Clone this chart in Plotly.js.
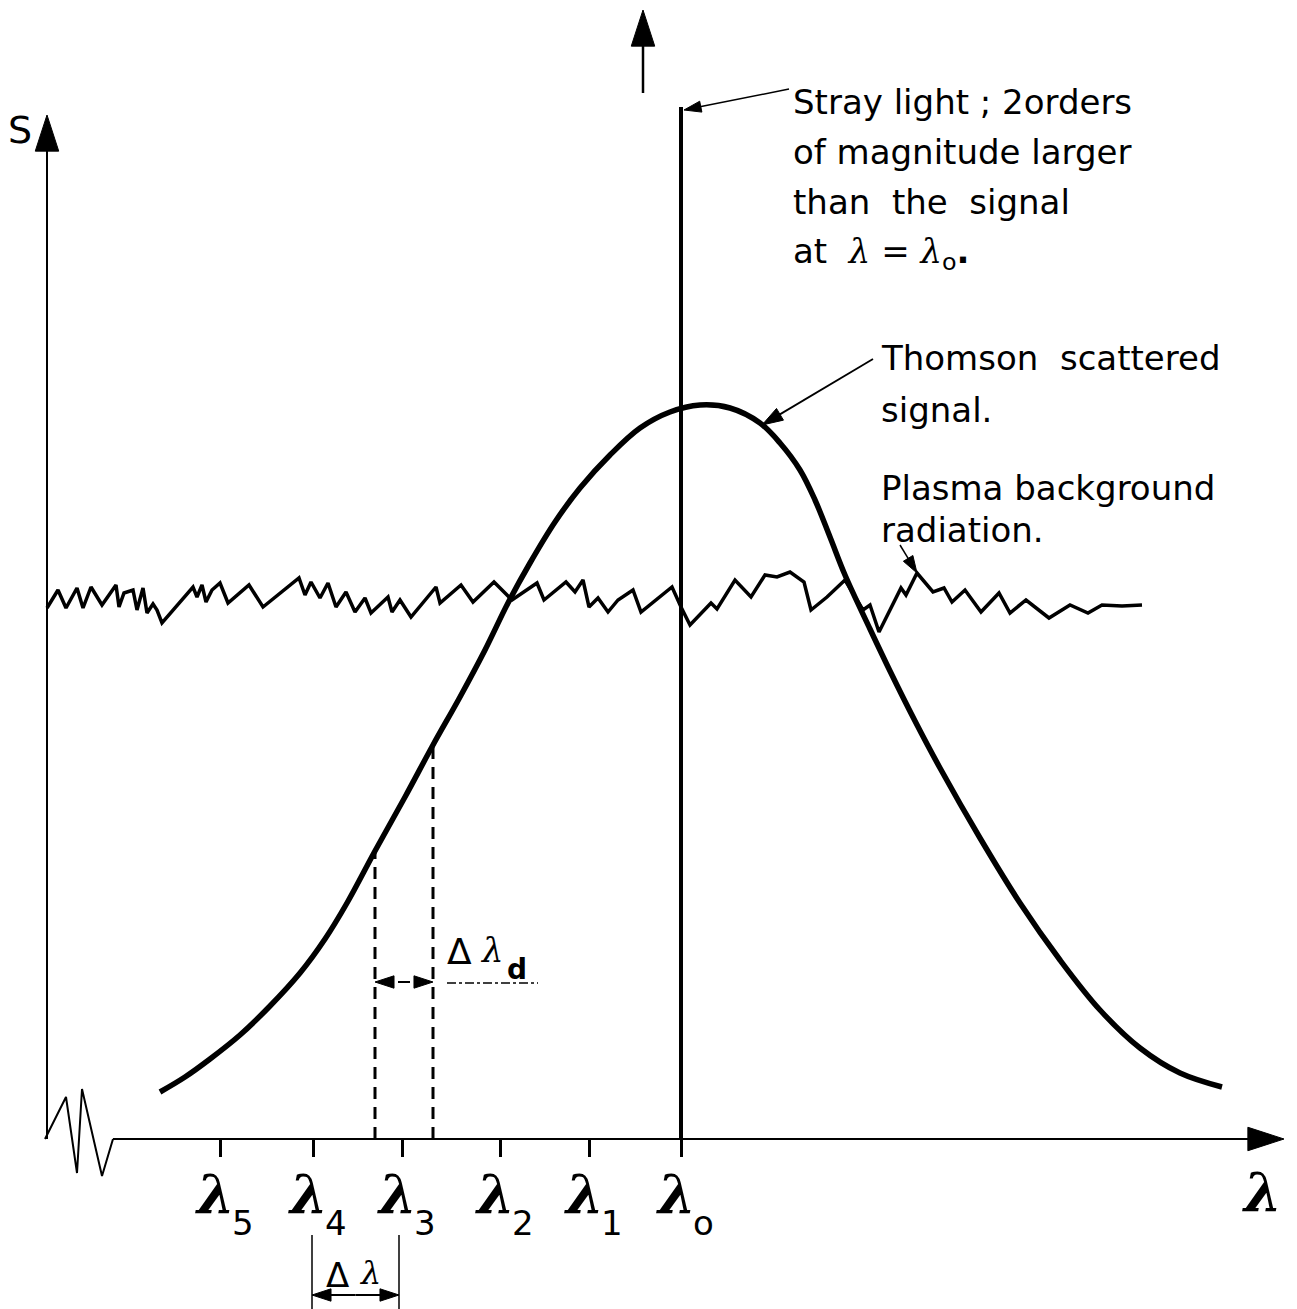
<!DOCTYPE html>
<html><head><meta charset="utf-8">
<script src="https://cdn.plot.ly/plotly-3.0.1.min.js"></script>
<style>html,body{margin:0;padding:0;background:#fff;}</style>
</head><body>
<div id="chart" style="width:1297px;height:1309px;"></div>
<script>
// ---- data (x: wavelength position, S: signal level, arbitrary units) ----
const signalX = [160,185,210,240,270,300,325,347,375,405,433,460,485,508,530,555,580,610,640,670,700,730,760,780,800,815,830,845,870,890,915,940,980,1020,1060,1100,1140,1180,1222];
const signalS = [47,62,80,104,133,166,200,236,288,342,394,442,489,536,576,617,651,684,711,727,734,731,716,696,669,639,602,564,510,468,418,371,301,236,179,129,91,66,52];

const backgroundX = [47,58,66,77,83,91,102,116,119,124,133,137,143,147,153,157,162,193,197,202,206,212,220,228,249,263,299,305,311,320,328,336,346,355,365,371,388,392,400,411,436,440,461,473,494,512,537,544,566,575,583,589,598,608,618,633,641,672,681,690,711,717,735,751,765,777,790,804,811,827,845,863,870,879,901,906,917,933,944,952,965,981,999,1010,1026,1049,1070,1088,1102,1122,1142];
const backgroundS = [531,549,531,551,531,552,534,554,532,546,549,529,551,526,535,529,516,552,542,554,537,549,556,536,554,532,561,544,557,541,556,532,547,527,541,526,542,527,539,522,552,536,554,537,557,539,556,539,557,547,559,532,541,527,539,549,527,552,532,514,536,530,559,542,564,562,567,557,529,542,559,529,534,507,551,544,566,547,551,537,549,527,546,526,539,521,534,526,534,533,534];

const strayLightX = 681;
const strayLightS = [0, 1032];
const strayOffscaleS = [1046, 1129];
const strayOffscaleX = 643;

const tickPositions = [220, 313, 402, 500, 589, 681];
const tickLabels = ['5', '4', '3', '2', '1', 'o'];

const dopplerX = [375, 433];      // edges of Δλd
const dopplerTopS = [288, 394];   // where the dashed lines meet the signal
const dopplerArrowS = 157;
const channelX = [312, 399];      // edges of Δλ
const channelS = [-96, -170];
const channelArrowS = -156;

const axisBreakX = [45, 66, 77, 82, 102, 113];
const axisBreakS = [0, 42, -34, 50, -37, 0];
const xAxisEnd = 1284;
const yAxisX = 47;
const yAxisEnd = 1024;

// ---- helpers ----
const K = '#000';
function line(x, y, w, dash) {
  return {type:'scatter', mode:'lines', x:x, y:y, line:{color:K, width:w, dash:dash||'solid'},
          hoverinfo:'skip', showlegend:false};
}
function arrow(x0, y0, x1, y1, w, head, dash) {
  return {type:'scatter', mode:'lines+markers', x:[x0, x1], y:[y0, y1],
          line:{color:K, width:w, dash:dash||'solid'},
          marker:{symbol:'arrow', size:[0, head], angleref:'previous', color:K, opacity:1,
                  line:{color:K, width:1}},
          opacity:1, hoverinfo:'skip', showlegend:false};
}

const traces = [];
// axes
traces.push(line(axisBreakX, axisBreakS, 2));
traces.push(arrow(axisBreakX[axisBreakX.length-1], 0, xAxisEnd, 0, 2, 38));
traces.push(arrow(yAxisX, 0, yAxisX, yAxisEnd, 2, 38));
// background radiation
traces.push(line(backgroundX, backgroundS, 3.5));
// thomson signal
traces.push({type:'scatter', mode:'lines', x:signalX, y:signalS,
  line:{color:K, width:5.5, shape:'spline', smoothing:1}, hoverinfo:'skip', showlegend:false});
// stray light
traces.push(line([strayLightX, strayLightX], strayLightS, 4));
traces.push(arrow(strayOffscaleX, strayOffscaleS[0], strayOffscaleX, strayOffscaleS[1], 2.5, 38));
// dashed doppler lines
for (let i = 0; i < dopplerX.length; i++) {
  traces.push(line([dopplerX[i], dopplerX[i]], [0, dopplerTopS[i]], 3, '12px,8px'));
}
const dMid = (dopplerX[0] + dopplerX[1]) / 2;
traces.push(arrow(dMid, dopplerArrowS, dopplerX[0], dopplerArrowS, 2, 20, '6px,4px'));
traces.push(arrow(dMid, dopplerArrowS, dopplerX[1], dopplerArrowS, 2, 20, '6px,4px'));
traces.push(line([447, 538], [dopplerArrowS - 1, dopplerArrowS - 1], 1.5, 'dashdot'));
// channel width Δλ
for (let i = 0; i < channelX.length; i++) {
  traces.push(line([channelX[i], channelX[i]], channelS, 1.5));
}
const cMid = (channelX[0] + channelX[1]) / 2;
traces.push(arrow(cMid, channelArrowS, channelX[0], channelArrowS, 2, 20));
traces.push(arrow(cMid, channelArrowS, channelX[1], channelArrowS, 2, 20));
// leaders
traces.push(arrow(789, 1050, 684, 1029, 1.5, 18));
traces.push(arrow(873, 780, 762, 714, 1.8, 22));
traces.push(arrow(900, 594, 917, 566, 1.5, 18));

// ---- annotations ----
const SANS = 'DejaVu Sans';
const SERIF = 'DejaVu Serif';
const ann = [];
function txt(x, y, text, size, family, xanchor) {
  ann.push({x:x, y:y, xref:'x', yref:'y', text:text, showarrow:false,
            xanchor:xanchor||'center', yanchor:'middle',
            font:{family:family||SANS, size:size, color:K}});
}
for (let i = 0; i < tickPositions.length; i++) {
  txt(tickPositions[i] - 5, -56, '<b><i>λ</i></b>', 54, SERIF);
  txt(tickPositions[i] + 10, -84, tickLabels[i], 34, SANS, 'left');
}
txt(1262, -54, '<b><i>λ</i></b>', 54, SERIF);
txt(20, 1009, 'S', 38, SANS);

const LAM = '<span style="font-family:DejaVu Serif"><i>λ</i></span>';
const strayLines = ['Stray light ; 2orders', 'of magnitude larger', 'than&nbsp;&nbsp;the&nbsp;&nbsp;signal',
  'at&nbsp;&nbsp;' + LAM + ' = ' + LAM + '<sub>o</sub><b>.</b>'];
const strayLineS = [1037, 987, 937, 886];
strayLines.forEach((t, i) => txt(791, strayLineS[i], t, 34, SANS, 'left'));

const thomsonLines = ['Thomson&nbsp;&nbsp;scattered', 'signal.', 'Plasma background', 'radiation.'];
const thomsonLineS = [781, 729, 651, 609];
thomsonLines.forEach((t, i) => txt(879, thomsonLineS[i], t, 34, SANS, 'left'));

txt(459, 188, 'Δ', 36, SANS);
txt(492, 189, '<i>λ</i>', 34, SERIF);
txt(505, 170, '<b>d</b>', 28, SANS, 'left');
txt(337, -136, 'Δ', 34, SANS);
txt(370, -134, '<i>λ</i>', 32, SERIF);

const layout = {
  width:1297, height:1309, margin:{l:0, r:0, t:0, b:0},
  paper_bgcolor:'#fff', plot_bgcolor:'#fff', showlegend:false,
  xaxis:{range:[0, 1297], showgrid:false, zeroline:false, showline:false,
         ticks:'outside', ticklen:17, tickwidth:3, tickcolor:K,
         tickvals:tickPositions, showticklabels:false,
         anchor:'free', position:170/1309, fixedrange:true},
  yaxis:{range:[-170, 1139], visible:false, fixedrange:true},
  annotations:ann
};
Plotly.newPlot('chart', traces, layout, {staticPlot:true, displayModeBar:false});
</script>
</body></html>
